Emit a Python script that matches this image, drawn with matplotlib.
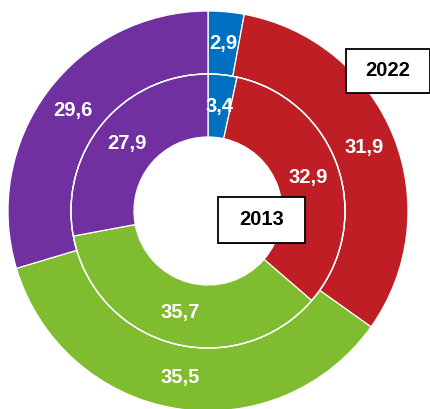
import numpy as np
import matplotlib.pyplot as plt
from matplotlib.patches import Rectangle

# data: shares per category, starting at 12 o'clock, clockwise
colors = ['#0070c0', '#be1e24', '#80bc2f', '#7030a0']
vals_2022 = [2.9, 31.9, 35.5, 29.6]
vals_2013 = [3.4, 32.9, 35.7, 27.9]
labels_2022 = ['2,9', '31,9', '35,5', '29,6']
labels_2013 = ['3,4', '32,9', '35,7', '27,9']
years = ['2022', '2013']

plt.rcParams['font.family'] = ['Liberation Sans', 'DejaVu Sans']

W, H = 431, 409
cx, cy = 208, 211          # pie centre in pixels (from top-left)
r_out, r_mid, r_hole = 200, 137, 74

fig = plt.figure(figsize=(W / 100, H / 100), dpi=100)
ax = fig.add_axes([0, 0, 1, 1])

def ring(vals, labels, radius, width):
    wedges, _ = ax.pie(vals, radius=radius, startangle=90, counterclock=False,
                       colors=colors, normalize=True,
                       wedgeprops=dict(width=width, edgecolor='white', linewidth=0.9))
    rlab = radius - width / 2
    for w, lab in zip(wedges, labels):
        ang = np.deg2rad((w.theta1 + w.theta2) / 2)
        ax.text(rlab * np.cos(ang), rlab * np.sin(ang), lab, color='white',
                fontsize=14.5, fontweight='bold', ha='center', va='center')
    return wedges

ring(vals_2022, labels_2022, r_out, r_out - r_mid)
ring(vals_2013, labels_2013, r_mid, r_mid - r_hole)
ax.add_patch(plt.Circle((0, 0), r_mid, fill=False, edgecolor='white', linewidth=1.0))

# year boxes (left, top, right, bottom in pixels)
boxes = [(346, 49, 430, 93), (218, 197, 305, 243)]
for yr, (x0, y0, x1, y1) in zip(years, boxes):
    ax.add_patch(Rectangle((x0 - cx + 1, cy - y1 - 1), x1 - x0, y1 - y0,
                           facecolor='#555555', edgecolor='none', zorder=4))
    ax.add_patch(Rectangle((x0 - cx, cy - y1), x1 - x0, y1 - y0,
                           facecolor='white', edgecolor='black', linewidth=1.3, zorder=5))
    ax.text((x0 + x1) / 2 - cx, cy - (y0 + y1) / 2, yr, color='black',
            fontsize=14.5, fontweight='bold', ha='center', va='center', zorder=6)

ax.set_xlim(-cx, W - cx)
ax.set_ylim(-(H - cy), cy)
ax.set_aspect('equal')
ax.axis('off')

plt.savefig('out.png', dpi=100)
